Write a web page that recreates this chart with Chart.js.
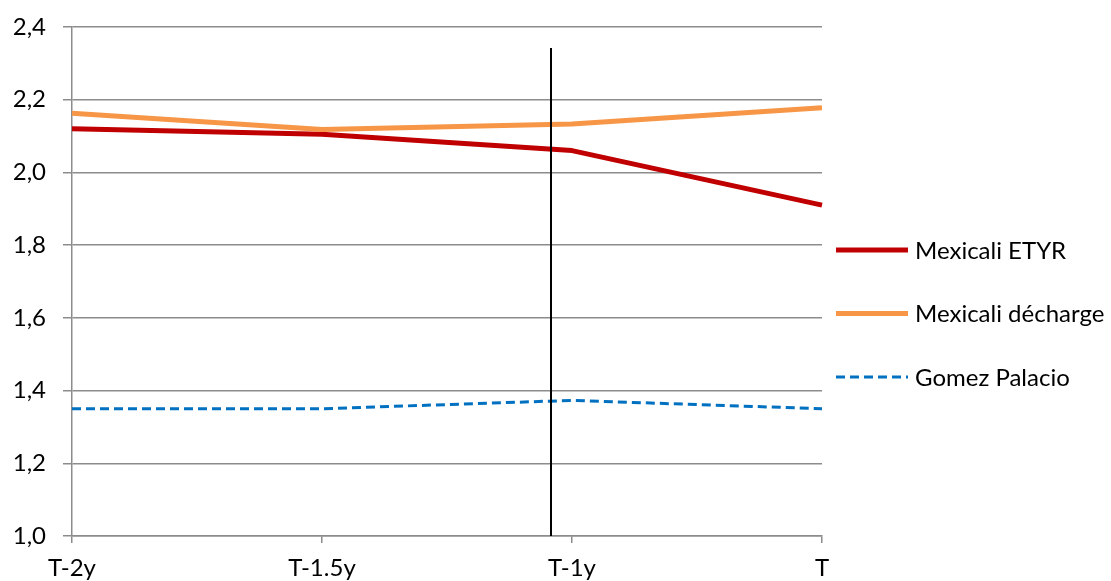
<!DOCTYPE html>
<html>
<head>
<meta charset="utf-8">
<script src="https://cdn.jsdelivr.net/npm/chart.js@4/dist/chart.umd.min.js"></script>
<style>
  html, body { margin: 0; padding: 0; background: #fff; }
  #wrap { width: 1111px; height: 581px; }
</style>
</head>
<body>
<div id="wrap"><canvas id="chart" width="1111" height="581"></canvas></div>
<script>
// Periods on the horizontal axis
const categories = ['T-2y', 'T-1.5y', 'T-1y', 'T'];

// Series values
const mexicaliEtyr = [2.12, 2.105, 2.06, 1.91];
const mexicaliDecharge = [2.163, 2.118, 2.133, 2.178];
const gomezPalacio = [1.35, 1.35, 1.373, 1.35];

// Series names
const seriesNames = ['Mexicali ETYR', 'Mexicali décharge', 'Gomez Palacio'];

// Value axis range
const yMin = 1.0;
const yMax = 2.4;
const yStep = 0.2;

// Vertical reference marker (position on the category axis, top value)
const markerPosition = 1.916;
const markerTop = 2.342;

const FONT = 'Lato, "Open Sans", sans-serif';
const FONT_SIZE = 24;
const GRID = '#8c8c8c';

const formatTick = v => Number(v).toFixed(1).replace('.', ',');

// Black vertical line drawn over the series
const markerLine = {
  id: 'markerLine',
  afterDatasetsDraw(chart) {
    const { ctx, scales: { x, y } } = chart;
    const px = x.getPixelForValue(markerPosition);
    ctx.save();
    ctx.strokeStyle = '#000';
    ctx.lineWidth = 2;
    ctx.beginPath();
    ctx.moveTo(px, y.getPixelForValue(markerTop));
    ctx.lineTo(px, y.getPixelForValue(yMin));
    ctx.stroke();
    ctx.restore();
  }
};

// Legend at the right of the plot: line sample followed by the series name
const sideLegend = {
  id: 'sideLegend',
  afterDraw(chart) {
    const { ctx } = chart;
    const left = 836, lineLen = 72, firstY = 250, gap = 63.5;
    ctx.save();
    ctx.font = FONT_SIZE + 'px ' + FONT;
    ctx.textBaseline = 'middle';
    ctx.textAlign = 'left';
    seriesNames.forEach((name, i) => {
      const ds = chart.data.datasets.find(d => d.label === name);
      const yy = firstY + i * gap;
      ctx.strokeStyle = ds.borderColor;
      ctx.lineWidth = ds.borderWidth;
      ctx.setLineDash(ds.borderDash || []);
      ctx.lineCap = 'butt';
      ctx.beginPath();
      ctx.moveTo(left, yy);
      ctx.lineTo(left + lineLen, yy);
      ctx.stroke();
      ctx.setLineDash([]);
      ctx.fillStyle = '#000';
      ctx.fillText(name, left + lineLen + 7, yy + 1);
    });
    ctx.restore();
  }
};

new Chart(document.getElementById('chart'), {
  type: 'line',
  data: {
    labels: categories,
    datasets: [
      {
        label: seriesNames[0],
        data: mexicaliEtyr,
        borderColor: '#C00000',
        borderWidth: 5,
        order: 1
      },
      {
        label: seriesNames[1],
        data: mexicaliDecharge,
        borderColor: '#F79646',
        borderWidth: 5,
        order: 0
      },
      {
        label: seriesNames[2],
        data: gomezPalacio,
        borderColor: '#0070C0',
        borderWidth: 3,
        borderDash: [9, 5],
        order: 2
      }
    ]
  },
  options: {
    responsive: false,
    animation: false,
    events: [],
    elements: {
      point: { radius: 0 },
      line: { tension: 0, fill: false, borderCapStyle: 'butt', borderJoinStyle: 'round' }
    },
    layout: { padding: { left: 14, top: 27, right: 289, bottom: 0 } },
    plugins: {
      legend: { display: false },
      tooltip: { enabled: false }
    },
    scales: {
      x: {
        offset: false,
        afterFit(scale) { scale.height = 45; scale.paddingLeft = 0; scale.paddingRight = 0; },
        grid: { drawOnChartArea: false, drawTicks: true, tickLength: 7, color: GRID, lineWidth: 1.5 },
        border: { display: true, color: GRID, width: 1.5 },
        ticks: { font: { family: FONT, size: FONT_SIZE }, color: '#000', padding: 11, maxRotation: 0 }
      },
      y: {
        min: yMin,
        max: yMax,
        afterFit(scale) { scale.width = 58; scale.paddingTop = 0; scale.paddingBottom = 0; },
        grid: { color: GRID, lineWidth: 1.5, tickLength: 9, drawTicks: true },
        border: { display: true, color: GRID, width: 1.5 },
        ticks: {
          stepSize: yStep,
          font: { family: FONT, size: FONT_SIZE },
          color: '#000',
          padding: 17,
          callback: v => formatTick(v)
        }
      }
    }
  },
  plugins: [markerLine, sideLegend]
});
</script>
</body>
</html>
